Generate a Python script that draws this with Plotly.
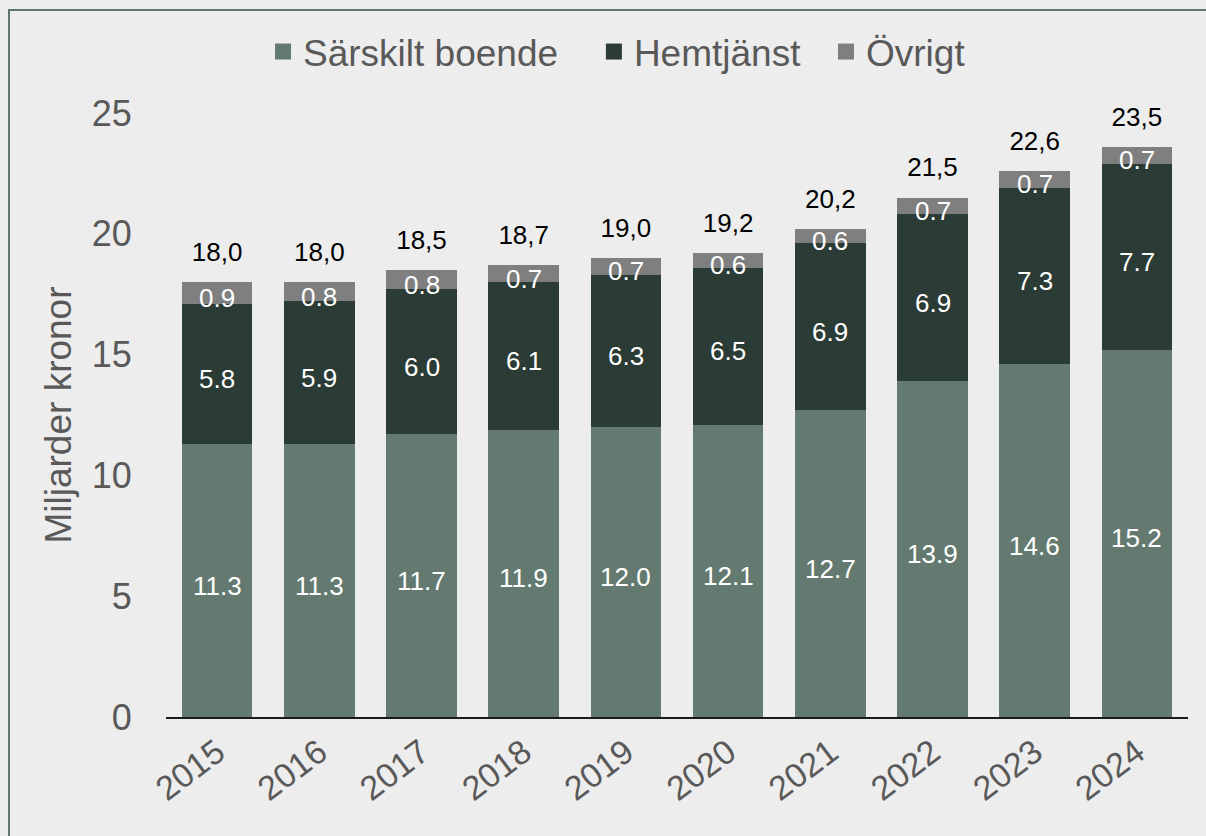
import plotly.graph_objects as go

years = ["2015", "2016", "2017", "2018", "2019", "2020", "2021", "2022", "2023", "2024"]
sarskilt = [11.3, 11.3, 11.7, 11.9, 12.0, 12.1, 12.7, 13.9, 14.6, 15.2]
hemtjanst = [5.8, 5.9, 6.0, 6.1, 6.3, 6.5, 6.9, 6.9, 7.3, 7.7]
ovrigt = [0.9, 0.8, 0.8, 0.7, 0.7, 0.6, 0.6, 0.7, 0.7, 0.7]
totals = [18.0, 18.0, 18.5, 18.7, 19.0, 19.2, 20.2, 21.5, 22.6, 23.5]

C_SAR = "#647A70"
C_HEM = "#2B3B35"
C_OVR = "#7F7F7F"
GREY = "#595959"
FONT = "Liberation Sans, Arial, sans-serif"

W, H = 1206, 836
L, R, T, B = 166, 18, 113, 119
PW = W - L - R
PH = H - T - B
NB = "\u00a0"

fig = go.Figure()
series = [("Särskilt boende", sarskilt, C_SAR, NB * 3),
          ("Hemtjänst", hemtjanst, C_HEM, NB * 2),
          ("Övrigt", ovrigt, C_OVR, "")]
for name, vals, col, pad in series:
    fig.add_trace(go.Bar(x=years, y=vals, name=name, marker=dict(color=col, line=dict(width=0)),
                         hoverinfo="skip", showlegend=False))
# legend entries with larger square icons
for name, vals, col, pad in series:
    fig.add_trace(go.Scatter(x=[None], y=[None], mode="markers", name=name + pad,
                             marker=dict(symbol="square", size=19, color=col)))

# segment labels (centred in each segment, nudged like the original)
mid1 = [s / 2 for s in sarskilt]
mid2 = [s + h / 2 for s, h in zip(sarskilt, hemtjanst)]
mid3 = [s + h + o / 2 for s, h, o in zip(sarskilt, hemtjanst, ovrigt)]
annotations = []
for mids, vals in [(mid1, sarskilt), (mid2, hemtjanst), (mid3, ovrigt)]:
    for i, (m, v) in enumerate(zip(mids, vals)):
        annotations.append(dict(x=i, y=m, xref="x", yref="y", text=f"{v:.1f}", showarrow=False,
                                yshift=-5, font=dict(color="white", size=26, family=FONT)))

tops = [s + h + o for s, h, o in zip(sarskilt, hemtjanst, ovrigt)]
fig.add_trace(go.Scatter(x=years, y=tops, mode="markers+text",
                         marker=dict(size=22, opacity=0),
                         text=[f"{t:.1f}".replace(".", ",") for t in totals],
                         textposition="top center",
                         textfont=dict(color="black", size=26, family=FONT),
                         showlegend=False, hoverinfo="skip", cliponaxis=False))

fig.update_layout(
    barmode="stack",
    bargap=0.31,
    width=W, height=H,
    margin=dict(l=L, r=R, t=T, b=B),
    paper_bgcolor="#EDEDED",
    plot_bgcolor="#EDEDED",
    font=dict(family=FONT, color=GREY),
    annotations=annotations,
    legend=dict(orientation="h", x=(617 - L) / PW, xanchor="center", y=(H - B - 52) / PH, yanchor="middle",
                font=dict(size=37, color=GREY, family=FONT), traceorder="normal",
                itemsizing="trace", bgcolor="rgba(0,0,0,0)"),
    xaxis=dict(type="category", range=[-0.5, len(years) - 0.5], tickangle=-37,
               tickfont=dict(size=34, color=GREY),
               showline=True, linecolor="#1a1a1a", linewidth=2, ticks="", showgrid=False),
    yaxis=dict(range=[0, 25], tickvals=[0, 5, 10, 15, 20, 25], tickfont=dict(size=36, color=GREY),
               showgrid=False, zeroline=False, ticks="outside", ticklen=26, tickcolor="rgba(0,0,0,0)",
               title=dict(text="Miljarder kronor", font=dict(size=37, color=GREY), standoff=8)),
    shapes=[dict(type="rect", xref="paper", yref="paper",
                 x0=(9 - L) / PW, x1=(W + 20 - L) / PW,
                 y0=(H - B - H - 20) / PH, y1=(H - B - 10) / PH,
                 line=dict(color="#5F786D", width=2), fillcolor="rgba(0,0,0,0)", layer="below")],
)

fig.write_html("out.html", config={"displayModeBar": False},
               post_script="document.body.style.margin='0';document.body.style.overflow='hidden';")
